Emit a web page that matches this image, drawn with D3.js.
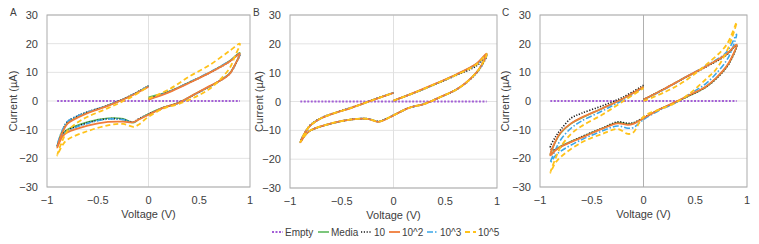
<!DOCTYPE html>
<meta charset="utf-8">
<script src="https://d3js.org/d3.v7.min.js"></script>
<style>
  body { margin: 0; background: #fff; }
  svg text { font-family: "Liberation Sans", Arial, sans-serif; fill: #404040; }
</style>
<div id="chart"></div>
<script>
// sweep: 0 -> 0.9 -> -0.9 -> 0 (V)
var voltage = [0, 0.2, 0.4, 0.6, 0.8, 0.9, 0.85, 0.8, 0.7, 0.6, 0.45, 0.3, 0.15, 0, -0.1, -0.15, -0.25, -0.4, -0.6, -0.8, -0.85, -0.9, -0.85, -0.8, -0.7, -0.6, -0.4, -0.2, 0];
var emptyVoltage = [-0.9, 0, 0.9];
var emptyCurrent = [0, 0, 0];

var seriesNames = ["Empty", "Media", "10", "10^2", "10^3", "10^5"];
var xTicks = [-1, -0.5, 0, 0.5, 1];
var yTicks = [-30, -20, -10, 0, 10, 20, 30];

// Panel A currents (uA)
var mediaA = [1.3, 3.3, 6.5, 9.9, 14, 16.8, 12.5, 9.7, 7, 5, 2.3, -0.5, -2.2, -4.5, -6.5, -7.6, -6.2, -6.0, -7.3, -10, -11.5, -15.8, -10.5, -7.8, -5.6, -4, -1.6, 1.4, 5.2];
var tenA = [0.8, 3.2, 6.4, 9.8, 13.8, 16.5, 12.3, 9.5, 7, 5, 2.2, -0.6, -2.3, -4.6, -6.3, -7.3, -6.4, -6.2, -7.6, -10.3, -11.8, -16, -10.5, -7.3, -5.2, -3.8, -1.5, 1.5, 5.3];
var ten2A = [0.5, 3, 6.3, 9.8, 13.8, 16.5, 12.5, 9.5, 7, 5.2, 2.3, -0.6, -2.3, -4.8, -6.5, -7.4, -7.2, -7.3, -8.6, -11, -12.5, -16.3, -11, -8, -5.8, -4.2, -1.7, 1.3, 5];
var ten3A = [0.6, 3.2, 6.5, 10, 14, 16.5, 12.4, 9.6, 7, 5, 2.2, -0.7, -2.4, -4.7, -6.4, -7.4, -6.5, -6.3, -7.8, -10.5, -12, -15.5, -10.3, -7.2, -5.2, -3.8, -1.5, 1.4, 5.2];
var ten5A = [0.8, 4, 8.5, 12.5, 17.5, 20, 15.5, 11.5, 7.3, 4.2, 1.2, -1, -2.6, -5.5, -8.3, -9, -8, -8.5, -10.5, -13.5, -15.5, -19, -14, -10.5, -7.5, -5.5, -2.5, 0.8, 5];

// Panel B currents (uA)
var mediaB = [0.3, 3, 6, 9.2, 13, 16.5, 12.5, 10, 6.5, 4, 1.5, -0.8, -2.2, -4.8, -6.5, -7, -6, -6.2, -7.6, -10, -11.5, -14, -10.5, -8.2, -5.8, -4.4, -2.1, 0.5, 3];
var tenB = [0.3, 3, 5.9, 9, 12.3, 15.8, 12.2, 9.8, 6.4, 4, 1.5, -0.8, -2.2, -4.8, -6.4, -6.9, -6, -6.2, -7.6, -10, -11.5, -14, -10.4, -8, -5.7, -4.3, -2, 0.6, 3];
var ten2B = [0.3, 3.1, 6.1, 9.3, 13.1, 16.6, 12.6, 10, 6.5, 4, 1.5, -0.8, -2.2, -4.8, -6.6, -7.1, -6, -6.2, -7.6, -10, -11.5, -14.2, -10.5, -8.2, -5.8, -4.4, -2.1, 0.5, 3];
var ten3B = [0.3, 3, 6, 9.2, 12.8, 16.3, 12.4, 9.9, 6.5, 4, 1.5, -0.8, -2.2, -4.8, -6.5, -7, -6, -6.2, -7.6, -10, -11.5, -14, -10.5, -8.2, -5.8, -4.4, -2.1, 0.5, 3];
var ten5B = [0.3, 3, 6, 9.1, 12.8, 16.4, 12.5, 10, 6.5, 4, 1.5, -0.8, -2.2, -4.8, -6.5, -7, -6, -6.2, -7.6, -10, -11.5, -14.1, -10.5, -8.2, -5.8, -4.4, -2.1, 0.5, 3];

// Panel C currents (uA)
var mediaC = [0.5, 4.2, 8.2, 12, 16.2, 19.6, 14.8, 11.8, 7.8, 4.8, 2, -0.6, -3, -6, -7.8, -8, -7.5, -9.6, -12.6, -15.8, -17, -18.8, -14.2, -11.2, -7.9, -5.9, -2.6, 0.8, 5];
var tenC = [0.5, 4.2, 8.1, 11.8, 16, 19.5, 14.6, 11.6, 7.7, 4.8, 2, -0.6, -3, -5.8, -7.6, -7.8, -7.3, -9.5, -12.5, -16, -17, -16.5, -12.5, -10, -6, -4.3, -1.7, 1.3, 5.5];
var ten2C = [0.5, 4.2, 8.2, 12, 16.3, 19.7, 15, 12, 8, 5, 2.2, -0.5, -3, -6, -8, -8.3, -7.8, -9.7, -12.8, -16, -17.2, -19, -14, -11, -7.8, -5.8, -2.6, 0.8, 5];
var ten3C = [0.4, 4, 8.2, 12.2, 17, 23.3, 17.5, 14, 9.5, 6, 2.5, -0.8, -3.3, -6.5, -9.3, -9.5, -8.7, -10.5, -13.5, -17.5, -19, -21.5, -17, -13.5, -9.5, -7, -3.5, 0.3, 4.8];
var ten5C = [0, 3, 7, 12.5, 19.5, 27.5, 21.5, 17, 11, 7.5, 2.7, -0.8, -3, -5.5, -11, -11.5, -9.8, -11.5, -14.5, -19.5, -21.5, -25, -20, -16, -11.5, -8.8, -4.8, -0.2, 4.5];

var panelA = [mediaA, tenA, ten2A, ten3A, ten5A];
var panelB = [mediaB, tenB, ten2B, ten3B, ten5B];
var panelC = [mediaC, tenC, ten2C, ten3C, ten5C];

// styles per series
var styles = [
  {color: "#a35fd6", width: 2, dash: "2,1.5"},
  {color: "#5cb85c", width: 1.6, dash: null},
  {color: "#1a1a1a", width: 1.6, dash: "1.2,1.6"},
  {color: "#f07c3a", width: 1.8, dash: null},
  {color: "#3aa6e8", width: 1.6, dash: "6,2,1.5,2"},
  {color: "#ffc21a", width: 1.8, dash: "5,3"}
];
// drawing order (index into curves): blue under orange, yellow on top
var drawOrder = [0, 1, 3, 2, 4];

var W = 759, H = 244;
var svg = d3.select("#chart").append("svg")
  .attr("width", W).attr("height", H);

function drawPanel(cfg, curves) {
  var x = d3.scaleLinear().domain([-1, 1]).range([cfg.left, cfg.right]);
  var y = d3.scaleLinear().domain([-30, 30]).range([cfg.bottom, cfg.top]);
  var g = svg.append("g");

  // horizontal gridlines
  g.selectAll(".grid").data(yTicks).enter().append("line")
    .attr("x1", cfg.left).attr("x2", cfg.right)
    .attr("y1", d => y(d)).attr("y2", d => y(d))
    .attr("stroke", "#e3e3e3").attr("stroke-width", 1);

  // vertical axis line at V = 0
  g.append("line")
    .attr("x1", x(0)).attr("x2", x(0))
    .attr("y1", cfg.top).attr("y2", cfg.bottom)
    .attr("stroke", cfg.zeroColor).attr("stroke-width", 1);

  // frame
  g.append("rect")
    .attr("x", cfg.left).attr("y", cfg.top)
    .attr("width", cfg.right - cfg.left).attr("height", cfg.bottom - cfg.top)
    .attr("fill", "none").attr("stroke", "#ababab").attr("stroke-width", 1);

  // tick labels
  g.selectAll(".yl").data(yTicks).enter().append("text")
    .attr("x", cfg.left - 9).attr("y", d => y(d) + 4)
    .attr("text-anchor", "end").style("font-size", "11px")
    .text(d => d < 0 ? "\u2212" + Math.abs(d) : d);
  g.selectAll(".xl").data(xTicks).enter().append("text")
    .attr("x", d => x(d)).attr("y", cfg.bottom + 17)
    .attr("text-anchor", "middle").style("font-size", "11px")
    .text(d => d < 0 ? "\u2212" + Math.abs(d) : d);

  // titles
  g.append("text")
    .attr("transform", "translate(" + cfg.titleX + "," + ((cfg.top + cfg.bottom) / 2) + ")rotate(-90)")
    .attr("text-anchor", "middle").style("font-size", "11px")
    .text("Current (\u00b5A)");
  g.append("text")
    .attr("x", (cfg.left + cfg.right) / 2).attr("y", cfg.bottom + 31)
    .attr("text-anchor", "middle").style("font-size", "11px")
    .text("Voltage (V)");
  g.append("text")
    .attr("x", cfg.labelX).attr("y", 16)
    .style("font-size", "10px")
    .text(cfg.label);

  var line = d3.line()
    .x(d => x(d[0])).y(d => y(d[1]))
    .curve(d3.curveCatmullRom.alpha(0.5));

  // Empty
  g.append("path")
    .attr("d", line(emptyVoltage.map((v, i) => [v, emptyCurrent[i]])))
    .attr("fill", "none")
    .attr("stroke", styles[0].color).attr("stroke-width", styles[0].width)
    .attr("stroke-dasharray", styles[0].dash);

  drawOrder.forEach(function(k) {
    var cur = curves[k];
    var s = styles[k + 1];
    g.append("path")
      .attr("d", line(voltage.map((v, i) => [v, cur[i]])))
      .attr("fill", "none")
      .attr("stroke", s.color).attr("stroke-width", s.width)
      .attr("stroke-dasharray", s.dash)
      .attr("stroke-linecap", "butt");
  });
}

drawPanel({left: 47, right: 250, top: 15, bottom: 187, titleX: 17, labelX: 10, label: "A", zeroColor: "#e0e0e0"}, panelA);
drawPanel({left: 290, right: 497, top: 15, bottom: 188, titleX: 263, labelX: 253, label: "B", zeroColor: "#e0e0e0"}, panelB);
drawPanel({left: 540, right: 747, top: 15, bottom: 187, titleX: 509, labelX: 502, label: "C", zeroColor: "#b0b0b0"}, panelC);

// legend
var legend = svg.append("g").attr("transform", "translate(272,232)");
var legendX = [0, 46, 89, 117, 155, 193];
seriesNames.forEach(function(name, i) {
  var s = styles[i];
  legend.append("line")
    .attr("x1", legendX[i]).attr("x2", legendX[i] + 11)
    .attr("y1", 0).attr("y2", 0)
    .attr("stroke", s.color).attr("stroke-width", s.width)
    .attr("stroke-dasharray", s.dash);
  legend.append("text")
    .attr("x", legendX[i] + 13).attr("y", 4)
    .style("font-size", "10px")
    .text(name);
});
</script>
